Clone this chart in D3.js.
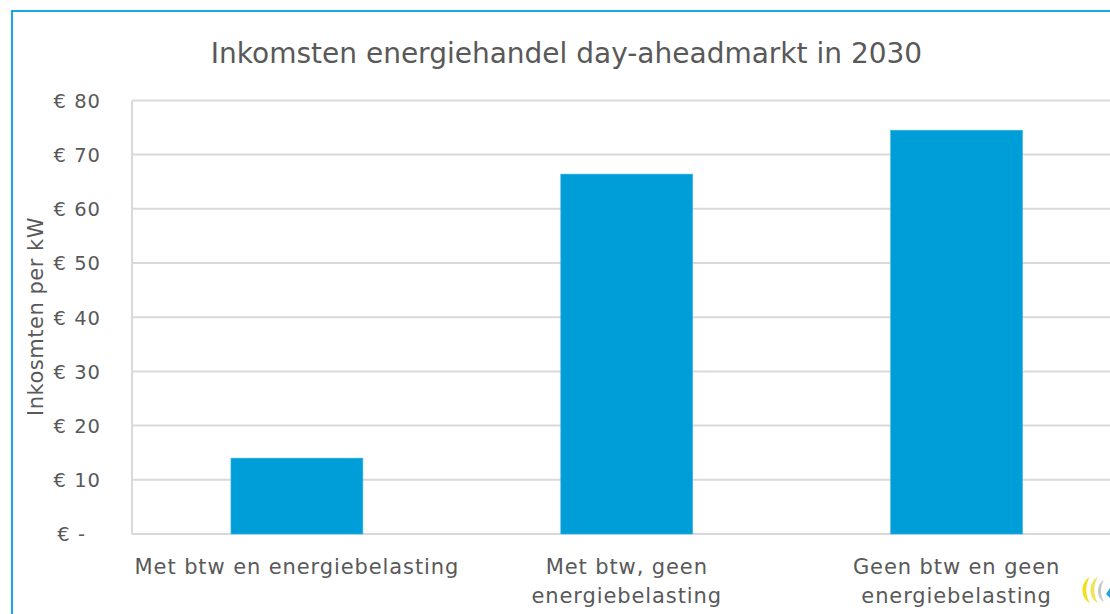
<!DOCTYPE html>
<html><head><meta charset="utf-8">
<script src="https://cdn.jsdelivr.net/npm/d3@7"></script>
<style>body{margin:0;background:#fff;}svg{display:block;}</style>
</head><body>
<svg id="chart" width="1110" height="614"></svg>
<script>
const categories = [["Met btw en energiebelasting"], ["Met btw, geen", "energiebelasting"], ["Geen btw en geen", "energiebelasting"]];
const values = [14.0, 66.4, 74.5];
const yTicks = [0, 10, 20, 30, 40, 50, 60, 70, 80];
const yTickLabels = ["€ -", "€ 10", "€ 20", "€ 30", "€ 40", "€ 50", "€ 60", "€ 70", "€ 80"];
const title = "Inkomsten energiehandel day-aheadmarkt in 2030";
const yTitle = "Inkosmten per kW";

const svg = d3.select("#chart");
const font = "'DejaVu Sans', sans-serif";
const textColor = "#595959";
const m = {left: 132, right: 1121.5, top: 100.4, bottom: 534};

// border
svg.append("path").attr("d", "M12,614 L12,11 L1110,11").attr("fill", "none").attr("stroke", "#1AA6E2").attr("stroke-width", 2);

const x = d3.scaleBand().domain(d3.range(categories.length)).range([m.left, m.right]).paddingInner(0.6).paddingOuter(0.3);
const y = d3.scaleLinear().domain([0, 80]).range([m.bottom, m.top]);

// gridlines
svg.append("g").selectAll("line").data(yTicks).join("line")
  .attr("x1", m.left).attr("x2", m.right)
  .attr("y1", d => y(d)).attr("y2", d => y(d))
  .attr("stroke", "#D9D9D9").attr("stroke-width", 2);
svg.append("line").attr("x1", m.left).attr("x2", m.left).attr("y1", y(80)).attr("y2", y(0))
  .attr("stroke", "#D9D9D9").attr("stroke-width", 2);

// bars
svg.append("g").selectAll("rect").data(values).join("rect")
  .attr("x", (d, i) => x(i)).attr("width", x.bandwidth())
  .attr("y", d => y(d)).attr("height", d => y(0) - y(d))
  .attr("fill", "#009ED8").attr("stroke", "#3DB5E6").attr("stroke-width", 0.6);

// y axis
const yAxis = d3.axisLeft(y).tickValues(yTicks).tickFormat((d, i) => yTickLabels[i]).tickSize(0).tickPadding(31);
const ga = svg.append("g").attr("transform", `translate(${m.left},0)`).call(yAxis);
ga.select(".domain").remove();
ga.selectAll("text").attr("font-family", font).attr("font-size", 19.5).attr("letter-spacing", 1).attr("fill", textColor)
  .attr("dy", "0.35em")
  .attr("dx", d => d === 0 ? -15 : 0);

// x labels
const gx = svg.append("g");
categories.forEach((lines, i) => {
  const t = gx.append("text").attr("x", x(i) + x.bandwidth() / 2).attr("y", 574)
    .attr("text-anchor", "middle").attr("font-family", font).attr("font-size", 21)
    .attr("letter-spacing", 0.9).attr("fill", textColor);
  lines.forEach((l, j) => t.append("tspan").attr("x", x(i) + x.bandwidth() / 2).attr("dy", j === 0 ? 0 : 29).text(l));
});

// title
svg.append("text").attr("x", 566.5).attr("y", 63).attr("text-anchor", "middle")
  .attr("font-family", font).attr("font-size", 28).attr("fill", textColor).text(title);

// y title
svg.append("text").attr("transform", "translate(43,316.5) rotate(-90)").attr("text-anchor", "middle")
  .attr("font-family", font).attr("font-size", 21).attr("letter-spacing", 0.5).attr("fill", textColor).text(yTitle);

// logo fragment
const lg = svg.append("g").attr("transform", "translate(1092,590)");
lg.append("path").attr("d", "M-2,-13 C-12,-8 -12,8 -2,13 C-7,6 -7,-6 -2,-13 Z").attr("fill", "#F2E01C");
lg.append("path").attr("d", "M6,-13 C-4,-8 -4,8 6,13 C1,6 1,-6 6,-13 Z").attr("fill", "#EDE45A");
lg.append("path").attr("d", "M12,-10 C4,-6 4,8 12,12 C8,6 8,-4 12,-10 Z").attr("fill", "#C8C8C8");
lg.append("path").attr("d", "M14,4 L18,-2 L18,8 Z").attr("fill", "#1AA6E2");
</script>
</body></html>
